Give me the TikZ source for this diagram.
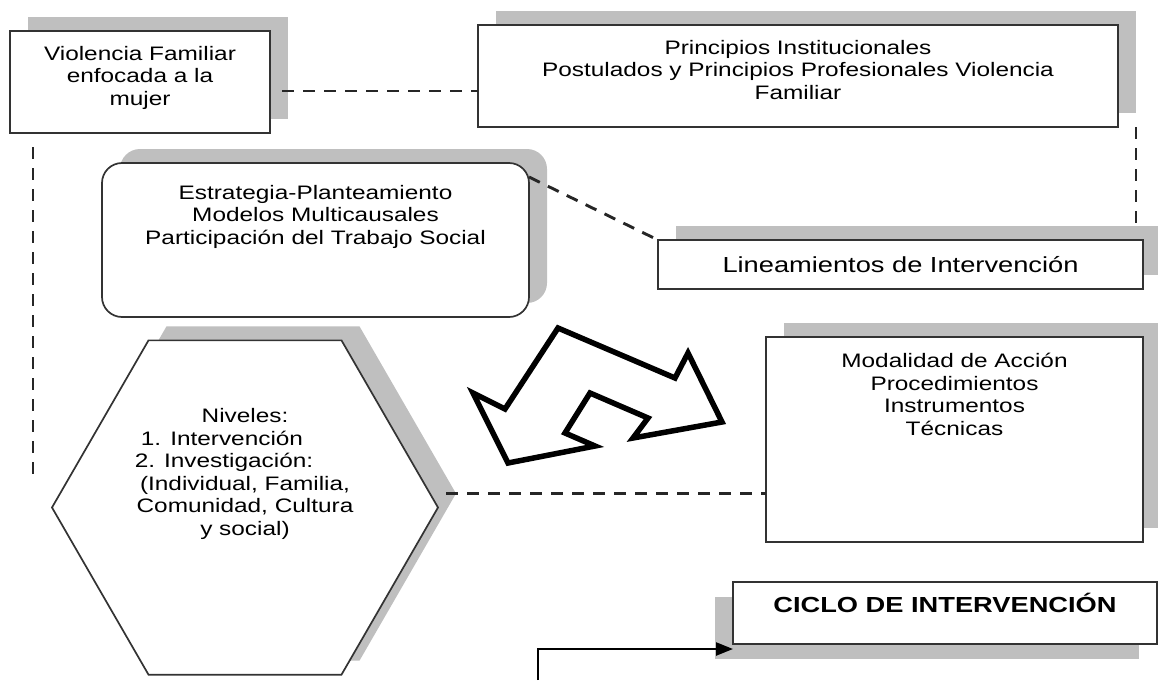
\documentclass[tikz,border=0pt]{standalone}
\usepackage{fontspec}
\setmainfont{Liberation Sans}[FakeStretch=1.25]
\usetikzlibrary{positioning, shapes.geometric, shadows, arrows.meta}

\begin{document}
\begin{tikzpicture}[x=1pt, y=-1pt,
    frame/.style={draw=black!80, line width=1.7pt, fill=white, inner sep=0pt, outer sep=0pt},
    boxshade/.style 2 args={drop shadow={shadow xshift=#1, shadow yshift=#2, fill=black!25, opacity=1}},
    box/.style={frame, boxshade={18pt}{14pt}},
    txt/.style={align=center, inner sep=0pt, font=\fontsize{19.5}{22.5}\selectfont},
    link/.style={draw=black!85, line width=2.9pt, dash pattern=on 12pt off 9pt},
    flow/.style={draw=black, line width=2.4pt, -{Triangle[length=17pt,width=13pt]}}]
  \useasboundingbox (0,0) rectangle (1158,680);

  \node[box, minimum width=260pt, minimum height=102pt] (vf) at (140,82) {};
  \node[box, minimum width=640pt, minimum height=102pt] (pi) at (798,76) {};
  \node[box, rounded corners=20pt, minimum width=427pt, minimum height=154pt] (est) at (315.5,240) {};
  \node[box, minimum width=485pt, minimum height=49pt, txt, font=\fontsize{21.8}{24}\selectfont] (lin) at (900.5,264.5) {Lineamientos de Intervención};
  \node[box, minimum width=377pt, minimum height=205pt] (mod) at (954.5,439.5) {};
  \node[box, regular polygon, regular polygon sides=6, minimum size=386pt] (niv) at (245,507.5) {};
  \node[frame, boxshade={-18pt}{-15pt}, minimum width=424pt, minimum height=62pt] (ciclo) at (945,613) {};

  % texts
  \node[txt, below=15pt of vf.north] (vft) {Violencia Familiar\\enfocada a la\\mujer};
  \node[txt, below=15pt of pi.north] (pit) {Principios Institucionales\\Postulados y Principios Profesionales Violencia\\Familiar};
  \node[txt, below=22pt of est.north] (estt) {Estrategia-Planteamiento\\Modelos Multicausales\\Participación del Trabajo Social};
  \node[txt, below=16pt of mod.north] (modt) {Modalidad de Acción\\Procedimientos\\Instrumentos\\Técnicas};
  \node[txt, below=68pt of niv.north] (nivt) {Niveles:\\\mbox{1. Intervención\hspace{46pt}}\\\mbox{2. Investigación:\hspace{42pt}}\\(Individual, Familia,\\Comunidad, Cultura\\y social)};
  \node[txt, below=11pt of ciclo.north, font=\fontsize{21.8}{24}\selectfont\bfseries] (ciclot) {CICLO DE INTERVENCIÓN};

  % double arrow
  \draw[line width=5.5pt, line join=miter, fill=white]
    (558,328) -- (675,378) -- (688,353) -- (722,422) -- (633,438) -- (648,418)
    -- (590,393) -- (565,433) -- (595,446) -- (508,463) -- (473,393) -- (505,409) -- cycle;

  \coordinate (vend) at (33,480);
  \coordinate (cstart) at (538,680);

  \path[link]
    ([xshift=12pt,yshift=-9pt]vf.east) edge ([yshift=-9pt]vf.east -| pi.west)
    ([xshift=18pt]pi.south east) edge ([xshift=18pt,yshift=15pt]pi.south east |- lin.north)
    ([yshift=-14pt]est.north east) edge (lin.north west)
    ([xshift=23pt,yshift=-14pt]vf.south west) edge (vend)
    ([xshift=8pt,yshift=14pt]niv.east) edge ([yshift=14pt]niv.east -| mod.west);
  \draw[flow] (cstart) |- ([yshift=-5pt]ciclo.south west);
\end{tikzpicture}
\end{document}
